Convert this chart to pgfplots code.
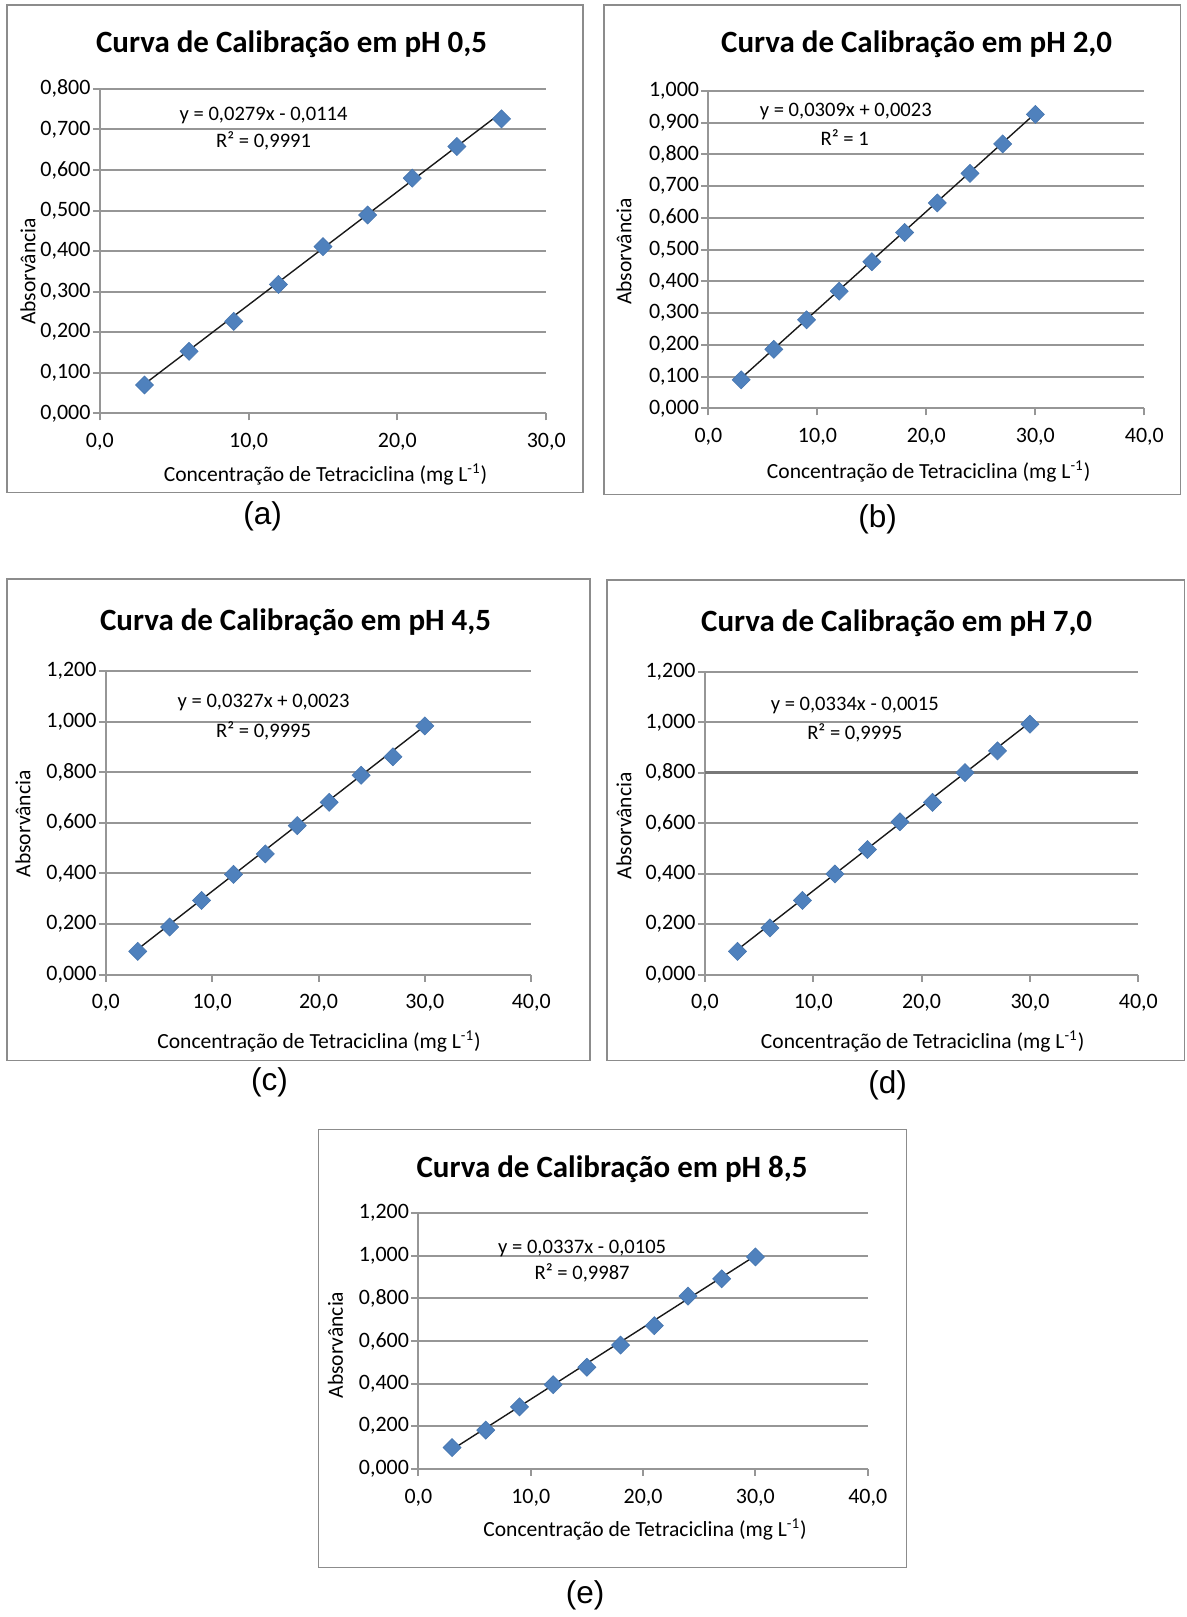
\documentclass[border=0pt]{standalone}
\usepackage{pgfplots}
\pgfplotsset{compat=1.18}
\usepackage{fontspec}
\setmainfont{Carlito}
\newfontfamily\panelfont{Liberation Sans}

\definecolor{gridgray}{RGB}{150,150,150}
\definecolor{framegray}{RGB}{140,140,140}
\definecolor{markblue}{RGB}{79,129,189}
\definecolor{markedge}{RGB}{70,118,176}

\pgfplotsset{
  calib/.style={
    scale only axis,
    anchor=south west,
    axis lines*=left,
    axis line style={draw=gridgray, line width=1pt},
    ymajorgrids,
    grid style={draw=gridgray, line width=1pt},
    tick style={draw=gridgray, line width=1pt},
    tick align=outside,
    major tick length=3.5pt,
    scaled ticks=false,
    clip=false,
    xmin=0, ymin=0,
    ticklabel style={font=\fontsize{11}{13}\selectfont, text=black},
    xticklabel style={/pgf/number format/.cd, use comma, fixed, fixed zerofill,
      precision=1, assume math mode=true, /tikz/.cd, yshift=-3pt},
    yticklabel style={/pgf/number format/.cd, use comma, fixed, fixed zerofill,
      precision=3, assume math mode=true, /tikz/.cd, inner xsep=1pt},
  },
  pts/.style={only marks, mark=square*, mark size=3.2pt,
    mark options={rotate=45, fill=markblue, draw=markedge, line width=0.3pt}},
  trend/.style={black!90, line width=0.7pt, no marks},
}

\tikzset{
  ctitle/.style={font=\bfseries\fontsize{15.5}{18}\selectfont},
  xlab/.style={font=\fontsize{10.8}{13}\selectfont},
  ylab/.style={font=\fontsize{10.8}{13}\selectfont, rotate=90},
  eqn/.style={font=\fontsize{10.3}{12}\selectfont},
  panel/.style={font=\panelfont\fontsize{15.8}{18}\selectfont},
  frame/.style={draw=framegray, line width=0.75pt},
}

\newcommand\xlabtext{Concentração de Tetraciclina (mg L\textsuperscript{-1})}

\begin{document}
\begin{tikzpicture}
\path[fill=white] (0pt,0pt) rectangle (594pt,-808.5pt);

% ---------------- (a) pH 0,5 ----------------
\draw[frame] (3.5pt,-2.5pt) rectangle (292pt,-246.5pt);
\begin{axis}[calib, at={(50pt,-207pt)}, width=223.5pt, height=162.5pt,
  xmax=30, ymax=0.8, xtick={0,10,20,30},
  ytick={0,0.1,0.2,0.3,0.4,0.5,0.6,0.7,0.8}]
\addplot[pts] coordinates {(3,0.070) (6,0.153) (9,0.227) (12,0.318) (15,0.411)
  (18,0.489) (21,0.580) (24,0.658) (27,0.726)};
\addplot[trend] coordinates {(3,0.0723) (27,0.7419)};
\end{axis}
\node[ctitle] at (146pt,-22pt) {Curva de Calibração em pH 0,5};
\node[ylab] at (14pt,-136pt) {Absorvância};
\node[xlab] at (163pt,-237.5pt) {\xlabtext};
\node[eqn] at (132pt,-58pt) {y = 0,0279x - 0,0114};
\node[eqn] at (132pt,-70.5pt) {R² = 0,9991};
\node[panel] at (131.5pt,-258.5pt) {(a)};

% ---------------- (b) pH 2,0 ----------------
\draw[frame] (302.5pt,-2.5pt) rectangle (591pt,-247.5pt);
\begin{axis}[calib, at={(354.75pt,-204.5pt)}, width=218.25pt, height=159pt,
  xmax=40, ymax=1.0, xtick={0,10,20,30,40},
  ytick={0,0.1,0.2,0.3,0.4,0.5,0.6,0.7,0.8,0.9,1.0}]
\addplot[pts] coordinates {(3,0.090) (6,0.186) (9,0.279) (12,0.369) (15,0.462)
  (18,0.554) (21,0.647) (24,0.740) (27,0.833) (30,0.926)};
\addplot[trend] coordinates {(3,0.0950) (30,0.9293)};
\end{axis}
\node[ctitle] at (459pt,-22pt) {Curva de Calibração em pH 2,0};
\node[ylab] at (312.5pt,-126pt) {Absorvância};
\node[xlab] at (465pt,-236pt) {\xlabtext};
\node[eqn] at (423.5pt,-56pt) {y = 0,0309x + 0,0023};
\node[eqn] at (423pt,-69pt) {R² = 1};
\node[panel] at (439.5pt,-260pt) {(b)};

% ---------------- (c) pH 4,5 ----------------
\draw[frame] (3.5pt,-290pt) rectangle (295.5pt,-531pt);
\begin{axis}[calib, at={(53pt,-488pt)}, width=213pt, height=152pt,
  xmax=40, ymax=1.2, xtick={0,10,20,30,40},
  ytick={0,0.2,0.4,0.6,0.8,1.0,1.2}]
\addplot[pts] coordinates {(3,0.092) (6,0.188) (9,0.293) (12,0.396) (15,0.477)
  (18,0.589) (21,0.681) (24,0.788) (27,0.861) (30,0.983)};
\addplot[trend] coordinates {(3,0.1004) (30,0.9833)};
\end{axis}
\node[ctitle] at (148pt,-311.5pt) {Curva de Calibração em pH 4,5};
\node[ylab] at (11.5pt,-412.5pt) {Absorvância};
\node[xlab] at (159.75pt,-521.5pt) {\xlabtext};
\node[eqn] at (132pt,-352pt) {y = 0,0327x + 0,0023};
\node[eqn] at (132pt,-366pt) {R² = 0,9995};
\node[panel] at (135pt,-542pt) {(c)};

% ---------------- (d) pH 7,0 ----------------
\draw[frame] (304pt,-290.5pt) rectangle (593pt,-531pt);
\begin{axis}[calib, at={(353pt,-488pt)}, width=217pt, height=151.5pt,
  xmax=40, ymax=1.2, xtick={0,10,20,30,40},
  ytick={0,0.2,0.4,0.6,0.8,1.0,1.2}]
\draw[draw=gridgray!80!black, line width=1.5pt] (axis cs:0,0.8) -- (axis cs:40,0.8);
\addplot[pts] coordinates {(3,0.092) (6,0.185) (9,0.294) (12,0.399) (15,0.496)
  (18,0.606) (21,0.683) (24,0.801) (27,0.887) (30,0.993)};
\addplot[trend] coordinates {(3,0.0987) (30,1.0005)};
\end{axis}
\node[ctitle] at (449pt,-312pt) {Curva de Calibração em pH 7,0};
\node[ylab] at (312.5pt,-413.5pt) {Absorvância};
\node[xlab] at (462pt,-521.5pt) {\xlabtext};
\node[eqn] at (428pt,-353.5pt) {y = 0,0334x - 0,0015};
\node[eqn] at (428pt,-367pt) {R² = 0,9995};
\node[panel] at (444.5pt,-543.5pt) {(d)};

% ---------------- (e) pH 8,5 ----------------
\draw[frame] (159.5pt,-565.5pt) rectangle (454pt,-785pt);
\begin{axis}[calib, at={(209.5pt,-735.5pt)}, width=225pt, height=128pt,
  xmax=40, ymax=1.2, xtick={0,10,20,30,40},
  ytick={0,0.2,0.4,0.6,0.8,1.0,1.2}]
\addplot[pts] coordinates {(3,0.100) (6,0.182) (9,0.291) (12,0.395) (15,0.477)
  (18,0.581) (21,0.672) (24,0.811) (27,0.892) (30,0.995)};
\addplot[trend] coordinates {(3,0.0906) (30,1.0005)};
\end{axis}
\node[ctitle] at (306.5pt,-585.5pt) {Curva de Calibração em pH 8,5};
\node[ylab] at (168pt,-673.5pt) {Absorvância};
\node[xlab] at (323pt,-766pt) {\xlabtext};
\node[eqn] at (291.5pt,-625pt) {y = 0,0337x - 0,0105};
\node[eqn] at (291.5pt,-637.5pt) {R² = 0,9987};
\node[panel] at (293pt,-799pt) {(e)};
\end{tikzpicture}
\end{document}
